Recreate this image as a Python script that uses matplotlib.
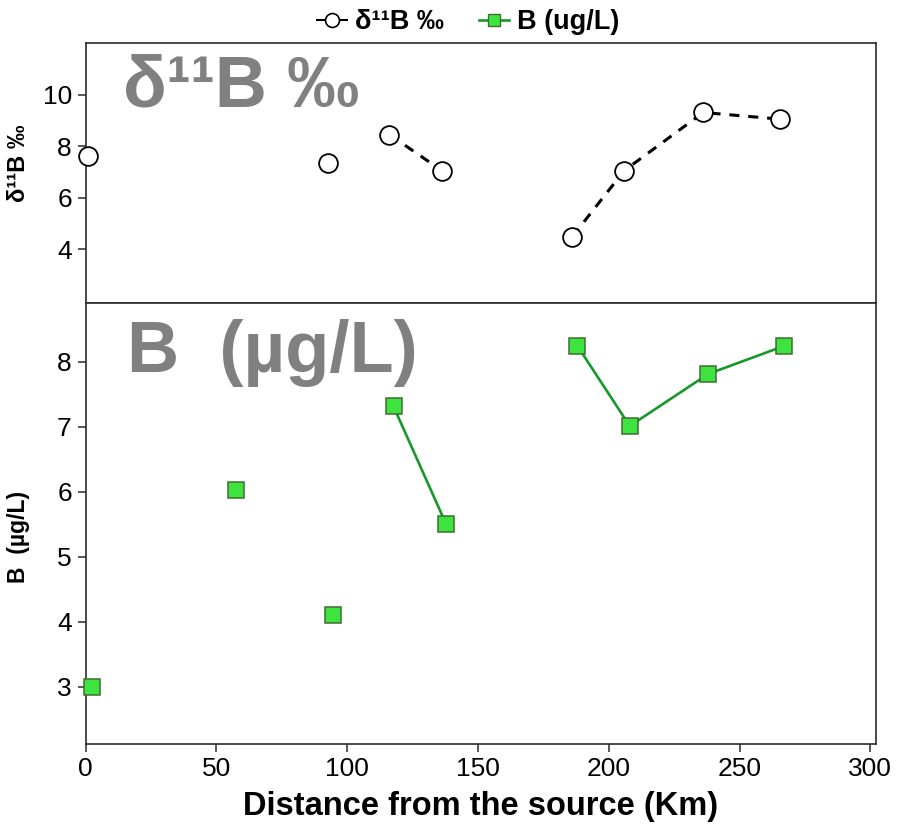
import numpy as np
import matplotlib
matplotlib.use("Agg")
import matplotlib.pyplot as plt
from matplotlib.lines import Line2D

plt.rcParams['font.family'] = ['Liberation Sans', 'DejaVu Sans']

# Boron isotope ratio along the river
d11b_dist = [0.9, 92.6, 116.1, 136.2, 186.0, 205.9, 236.1, 265.6]
d11b_vals = [7.6, 7.35, 8.45, 7.05, 4.48, 7.05, 9.31, 9.05]
d11b_run = [0, 1, 2, 2, 3, 3, 3, 3]

# Dissolved boron concentration along the river
b_dist = [2.4, 57.6, 94.5, 117.7, 137.7, 188.0, 208.0, 238.0, 267.0]
b_vals = [3.0, 6.02, 4.1, 7.31, 5.51, 8.24, 7.01, 7.81, 8.24]
b_run = [0, 1, 2, 3, 3, 4, 4, 4, 4]

x_ticks = [0, 50, 100, 150, 200, 250, 300]
d11b_ticks = [4, 6, 8, 10]
b_ticks = [3, 4, 5, 6, 7, 8]

GREEN_LINE = '#16982a'
GREEN_FILL = '#3de43f'
GREEN_EDGE = '#3f6e30'
SPINE = '#2b2b2b'

fig = plt.figure(figsize=(8.98, 8.30), dpi=100)
ax_top = fig.add_axes([0.0954, 0.6349, 0.8797, 0.3129])
ax_bot = fig.add_axes([0.0954, 0.1042, 0.8797, 0.5307], sharex=ax_top)


def runs(xs, ys, groups):
    xs, ys, groups = map(np.asarray, (xs, ys, groups))
    for g in np.unique(groups):
        m = groups == g
        if m.sum() > 1:
            yield xs[m], ys[m]


for xs, ys in runs(d11b_dist, d11b_vals, d11b_run):
    ax_top.plot(xs, ys, color='black', lw=2.2, dashes=(3.3, 2.9), zorder=2)
ax_top.plot(d11b_dist, d11b_vals, ls='none', marker='o', ms=13.5,
            mfc='white', mec='black', mew=1.3, zorder=3, clip_on=False)

for xs, ys in runs(b_dist, b_vals, b_run):
    ax_bot.plot(xs, ys, color=GREEN_LINE, lw=1.9, zorder=2)
ax_bot.plot(b_dist, b_vals, ls='none', marker='s', ms=11.5,
            mfc=GREEN_FILL, mec=GREEN_EDGE, mew=1.1, zorder=3, clip_on=False)

ax_top.set_xlim(0, 302)
ax_top.set_ylim(1.9, 12.0)
ax_bot.set_ylim(2.13, 8.9)
ax_bot.set_xticks(x_ticks)
ax_top.set_yticks(d11b_ticks)
ax_bot.set_yticks(b_ticks)

for ax in (ax_top, ax_bot):
    for sp in ax.spines.values():
        sp.set_color(SPINE)
        sp.set_linewidth(1.2)
    ax.tick_params(axis='both', direction='out', length=6, width=1.1,
                   color=SPINE, labelsize=19, pad=4)
ax_top.tick_params(axis='x', bottom=False, labelbottom=False)

ax_top.set_ylabel('δ¹¹B ‰', fontsize=17, fontweight='bold')
ax_bot.set_ylabel('B  (µg/L)', fontsize=16.5, fontweight='bold')
ax_top.yaxis.set_label_coords(-0.071, 0.54)
ax_bot.yaxis.set_label_coords(-0.071, 0.47)
ax_bot.set_xlabel('Distance from the source (Km)', fontsize=23.5,
                  fontweight='bold', labelpad=7)

ax_top.text(0.047, 0.755, 'δ¹¹B ‰', transform=ax_top.transAxes,
            fontsize=52, fontweight='bold', color='#808080', va='baseline')
ax_bot.text(0.052, 0.843, 'B  (µg/L)', transform=ax_bot.transAxes,
            fontsize=52, fontweight='bold', color='#808080', va='baseline')

handles = [
    Line2D([], [], color='black', lw=1.5, marker='o', ms=10,
           mfc='white', mec='black', mew=1.2),
    Line2D([], [], color=GREEN_LINE, lw=1.9, marker='s', ms=9,
           mfc=GREEN_FILL, mec=GREEN_EDGE, mew=1.0),
]
fig.legend(handles, ['δ¹¹B ‰', 'B (ug/L)'], loc='center',
           bbox_to_anchor=(0.521, 0.9735), ncol=2, frameon=False,
           prop={'weight': 'bold', 'size': 19.5}, handlelength=1.1,
           handletextpad=0.3, columnspacing=1.3)

fig.savefig('out.png', dpi=100)
